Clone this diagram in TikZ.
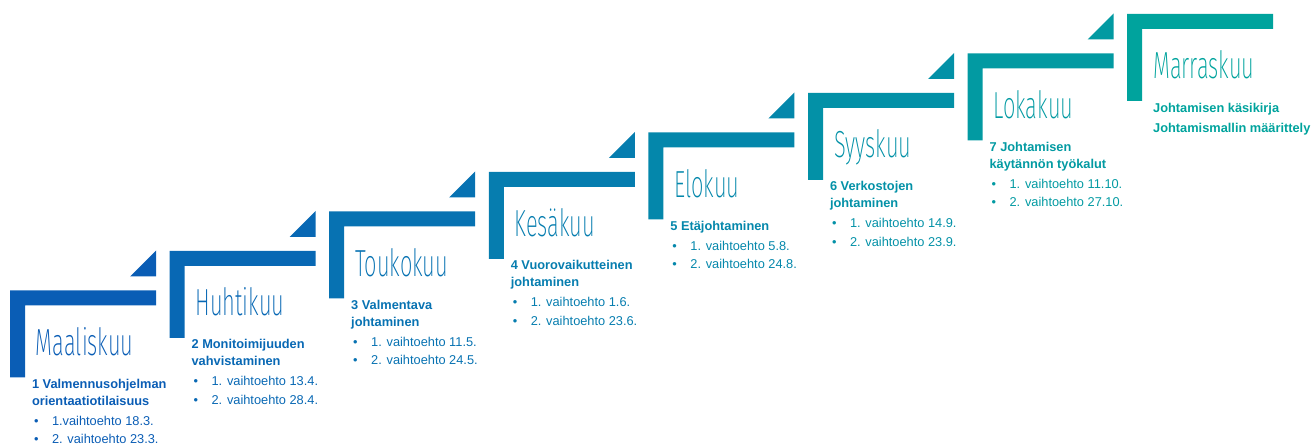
\documentclass[tikz,border=0pt]{standalone}
\usepackage{fontspec}
\setmainfont{Liberation Sans}
\newfontfamily\monthfont[FakeStretch=0.58]{Fira Sans ExtraLight}
\definecolor{c0}{HTML}{0A5DB5}
\definecolor{c1}{HTML}{0868B4}
\definecolor{c2}{HTML}{0772B2}
\definecolor{c3}{HTML}{067DAF}
\definecolor{c4}{HTML}{0487AB}
\definecolor{c5}{HTML}{0391A7}
\definecolor{c6}{HTML}{029AA2}
\definecolor{c7}{HTML}{00A39D}
\tikzset{
  monthlbl/.style={inner sep=0pt, outer sep=0pt, anchor=base west, font=\monthfont\fontsize{28.3}{30}\selectfont},
  titlelbl/.style={inner sep=0pt, outer sep=0pt, anchor=base west, font=\bfseries\fontsize{9.6}{12}\selectfont},
  itemlbl/.style={inner sep=0pt, outer sep=0pt, anchor=base west, font=\fontsize{9.6}{12}\selectfont},
}
\newcommand\mstep[7]{%
  \pgfmathsetmacro\L{10+159.6*#1}%
  \pgfmathsetmacro\T{290.5-39.5*#1}%
  \fill[c#1] (\L,\T) -- ++(146,0) -- ++(0,15) -- ++(-131,0) -- ++(0,72) -- ++(-15,0) -- cycle;
  \fill[c#1] (\L+120,\T-14) -- (\L+146,\T-14) -- (\L+146,\T-40) -- cycle;
  \node[monthlbl, text=c#1] (m#1) at (\L+26,\T+65) {#2};
  \node[titlelbl, text=c#1] (ta#1) at (\L+22,\T+98) {#3};
  \if\relax\detokenize{#4}\relax
    \pgfmathsetmacro\B{\T+118}%
  \else
    \node[titlelbl, text=c#1] (tb#1) at (\L+22,\T+114.7) {#4};
    \pgfmathsetmacro\B{\T+134.7}%
  \fi
  \if\relax\detokenize{#5}\relax\else
    \node[itemlbl, text=c#1] (da#1) at (\L+24,\B) {•};
    \node[itemlbl, text=c#1] (ia#1) at (\L+42,\B) {#5};
    \node[itemlbl, text=c#1] (db#1) at (\L+24,\B+18.5) {•};
    \node[itemlbl, text=c#1] (ib#1) at (\L+42,\B+18.5) {#6};
  \fi
}
\begin{document}
\begin{tikzpicture}[x=0.75pt,y=-0.75pt]
\useasboundingbox (0,0) rectangle (1312,448);
\mstep{0}{Maaliskuu}{1 Valmennusohjelman}{orientaatiotilaisuus}{1.vaihtoehto 18.3.}{2. vaihtoehto 23.3.}{}
\mstep{1}{Huhtikuu}{2 Monitoimijuuden}{vahvistaminen}{1. vaihtoehto 13.4.}{2. vaihtoehto 28.4.}{}
\mstep{2}{Toukokuu}{3 Valmentava}{johtaminen}{1. vaihtoehto 11.5.}{2. vaihtoehto 24.5.}{}
\mstep{3}{Kesäkuu}{4 Vuorovaikutteinen}{johtaminen}{1. vaihtoehto 1.6.}{2. vaihtoehto 23.6.}{}
\mstep{4}{Elokuu}{5 Etäjohtaminen}{}{1. vaihtoehto 5.8.}{2. vaihtoehto 24.8.}{}
\mstep{5}{Syyskuu}{6 Verkostojen}{johtaminen}{1. vaihtoehto 14.9.}{2. vaihtoehto 23.9.}{}
\mstep{6}{Lokakuu}{7 Johtamisen}{käytännön työkalut}{1. vaihtoehto 11.10.}{2. vaihtoehto 27.10.}{}
\pgfmathsetmacro\L{10+159.6*7}
\pgfmathsetmacro\T{290.5-39.5*7}
\fill[c7] (\L,\T) -- ++(146,0) -- ++(0,15) -- ++(-131,0) -- ++(0,72) -- ++(-15,0) -- cycle;
\node[monthlbl, text=c7] (m7) at (\L+26,\T+65) {Marraskuu};
\node[titlelbl, text=c7] (ta7) at (\L+26,\T+99) {Johtamisen käsikirja};
\node[titlelbl, text=c7] (tb7) at (\L+26,\T+119) {Johtamismallin määrittely};
\end{tikzpicture}
\end{document}
